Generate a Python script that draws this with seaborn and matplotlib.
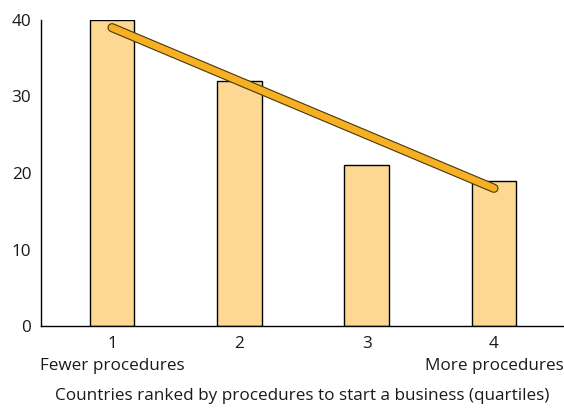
import matplotlib
matplotlib.use("Agg")
import matplotlib.pyplot as plt
import matplotlib.patheffects as pe
import seaborn as sns
import pandas as pd

quartiles = [1, 2, 3, 4]
values = [40, 32, 21, 19]
tick_labels = ["1\nFewer procedures", "2", "3", "4\nMore procedures"]
trend_x = [1, 4]
trend_y = [39, 18]
xlabel = "Countries ranked by procedures to start a business (quartiles)"

sns.set_theme(style="white")
plt.rcParams['font.family'] = ['Open Sans', 'DejaVu Sans']

fig = plt.figure(figsize=(5.64, 4.08), dpi=100)
ax = fig.add_axes([41/564, 1-326/408, 1-41/564, (326-20)/408])

df = pd.DataFrame({"q": quartiles, "v": values})
sns.barplot(data=df, x="q", y="v", native_scale=True, width=0.35,
            color="#FDD892", edgecolor="black", linewidth=1.0, saturation=1, ax=ax)

tdf = pd.DataFrame({"x": trend_x, "y": trend_y})
sns.lineplot(data=tdf, x="x", y="y", color="#F6B024", linewidth=5,
             solid_capstyle="round", ax=ax,
             path_effects=[pe.Stroke(linewidth=6.6, foreground="#4a3508"), pe.Normal()])

fs = 12.3
ax.set_xlim(0.442, 4.55)
ax.set_ylim(0, 40)
ax.set_yticks([0, 10, 20, 30, 40])
ax.set_xticks(quartiles)
ax.set_xticklabels(tick_labels, fontsize=fs, color="#1a1a1a", linespacing=1.55)
ax.tick_params(axis="y", labelsize=fs, labelcolor="#1a1a1a", length=0, pad=7)
ax.tick_params(axis="x", length=0, pad=7)
ax.set_xlabel(xlabel, fontsize=fs, color="#1a1a1a", labelpad=10)
ax.set_ylabel("")
for s in ["top", "right"]:
    ax.spines[s].set_visible(False)
for s in ["left", "bottom"]:
    ax.spines[s].set_color("black")
    ax.spines[s].set_linewidth(1.0)

fig.savefig("out.png", dpi=100)
